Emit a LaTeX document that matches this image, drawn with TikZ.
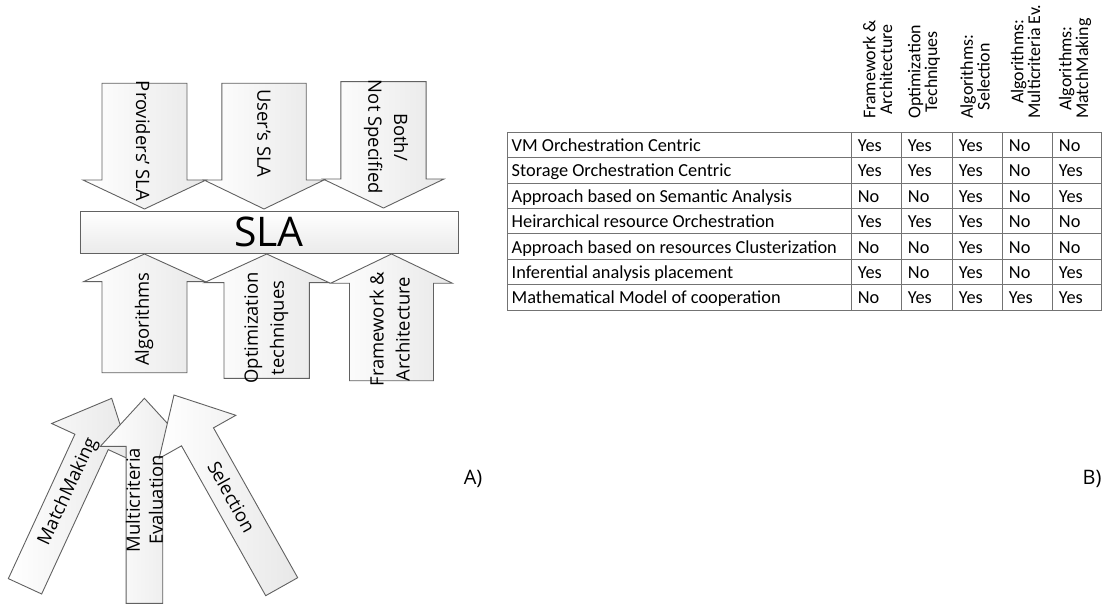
\documentclass[tikz,border=0pt]{standalone}
\usepackage{fontspec}
\setmainfont{Carlito}
\newfontfamily\arrowfont{Open Sans}

% block arrow pointing "up" in local coordinates (y grows downwards):
% #1 length, #2 shaft half width, #3 head half width, #4 head length
\newcommand\blockarrow[4]{%
  \path[barrow] (-#2,0) -- (-#2,{#4-#1}) -- (-#3,{#4-#1}) -- (0,-#1)
    -- (#3,{#4-#1}) -- (#2,{#4-#1}) -- (#2,0) -- cycle;}

\begin{document}
\begin{tikzpicture}[x=1bp,y=-1bp,
  barrow/.style={draw=black!62, line width=0.9bp, left color=white,
    right color=black!9, line join=miter},
  lbl/.style={font=\arrowfont\fontsize{18.5}{26}\selectfont, align=center, inner sep=0},
  cell/.style={font=\fontsize{18.4}{21}\selectfont, anchor=base west, inner sep=0},
  hdr/.style={font=\fontsize{18}{16.8}\selectfont, rotate=90, anchor=west,
    align=center, inner sep=0},
  tablegrid/.style={draw=black!55, line width=1bp},
  panel/.style={font=\arrowfont\fontsize{20}{24}\selectfont, inner sep=0}
]
\useasboundingbox (0,0) rectangle (1103,605);

% ---------- incoming SLA sources (pointing down) ----------
\begin{scope}[shift={(144.5,83.3)}, rotate=180]\blockarrow{125.7}{42.5}{61.5}{29}\end{scope}
\begin{scope}[shift={(264,83.3)}, rotate=180]\blockarrow{125.7}{42.2}{60}{29}\end{scope}
\begin{scope}[shift={(383.5,81.7)}, rotate=180]\blockarrow{126.3}{42.6}{60.5}{29}\end{scope}

% ---------- SLA bar ----------
\node[draw=black!62, line width=0.9bp, top color=white, bottom color=black!8,
  minimum width=378bp, minimum height=42bp, inner sep=0,
  font=\arrowfont\fontsize{41}{44}\selectfont] (sla) at (269,232) {SLA};

% ---------- contributions (pointing up) ----------
\begin{scope}[shift={(144.5,372.7)}]\blockarrow{118.7}{42.5}{61}{27.7}\end{scope}
\begin{scope}[shift={(266.7,378.3)}]\blockarrow{124.3}{42.7}{62.5}{28.7}\end{scope}
\begin{scope}[shift={(391.5,380.7)}]\blockarrow{126.7}{42}{61}{29.3}\end{scope}

% ---------- algorithm families ----------
\begin{scope}[shift={(25,586.3)}, rotate=-24.76]\blockarrow{207}{18.35}{44}{48}\end{scope}
\begin{scope}[shift={(144.4,603.3)}]\blockarrow{205}{18.35}{44}{48}\end{scope}
\begin{scope}[shift={(281.7,586.7)}, rotate=29.33]\blockarrow{219.9}{18.35}{44}{48}\end{scope}

% ---------- arrow labels ----------
\node[lbl, rotate=-90] (prov) at (143,141) {Providers’ SLA};
\node[lbl, rotate=-90] (user) at (264,133.5) {User’s SLA};
\node[lbl, rotate=-90] (both) at (386,137) {Both/\\Not Specified};
\node[lbl, rotate=90] (alg) at (144,319) {Algorithms};
\node[lbl, rotate=90] (opt) at (266.3,328) {Optimization\\techniques};
\node[lbl, rotate=90] (fw) at (389.7,329) {Framework \&\\Architecture};
\node[lbl, rotate=65] (mm) at (68.3,491.7) {MatchMaking};
\node[lbl, rotate=90, font=\arrowfont\fontsize{18.5}{23}\selectfont] (mc) at (144.5,500) {Multicriteria\\Evaluation};
\node[lbl, rotate=-61] (sel) at (231.7,496.7) {Selection};

\node[panel] (pa) at (473,479) {A)};
\node[panel] (pb) at (1092,479) {B)};

% ---------- comparison table ----------
\foreach \y in {132.3,157.7,183.1,208.5,233.9,259.3,284.7,310.1}
  \draw[tablegrid] (507.3,\y) -- (1101.7,\y);
\foreach \x in {507.3,851.7,901.7,952.7,1002.7,1052.7,1101.7}
  \draw[tablegrid] (\x,132.3) -- (\x,310.1);

\node[hdr] (h1) at (877.5,119) {Framework \&\\Architecture};
\node[hdr] (h2) at (924,119) {Optimization\\Techniques};
\node[hdr] (h3) at (975,119) {Algorithms:\\Selection};
\node[hdr] (h4) at (1025.5,119) {Algorithms:\\Multicriteria Ev.};
\node[hdr] (h5) at (1075,119) {Algorithms:\\MatchMaking};

\foreach \name/\a/\b/\c/\d/\e [count=\i from 0] in {
  VM Orchestration Centric/Yes/Yes/Yes/No/No,
  Storage Orchestration Centric/Yes/Yes/Yes/No/Yes,
  Approach based on Semantic Analysis/No/No/Yes/No/Yes,
  Heirarchical resource Orchestration/Yes/Yes/Yes/No/No,
  Approach based on resources Clusterization/No/No/Yes/No/No,
  Inferential analysis placement/Yes/No/Yes/No/Yes,
  Mathematical Model of cooperation/No/Yes/Yes/Yes/Yes}{
  \pgfmathsetmacro\yb{132.3+25.4*\i+19.3}
  \node[cell] (r\i) at (511.5,\yb) {\name};
  \node[cell] (r\i-1) at (857.7,\yb) {\a};
  \node[cell] (r\i-2) at (907.7,\yb) {\b};
  \node[cell] (r\i-3) at (958.7,\yb) {\c};
  \node[cell] (r\i-4) at (1008.7,\yb) {\d};
  \node[cell] (r\i-5) at (1058.7,\yb) {\e};
}
\end{tikzpicture}
\end{document}
